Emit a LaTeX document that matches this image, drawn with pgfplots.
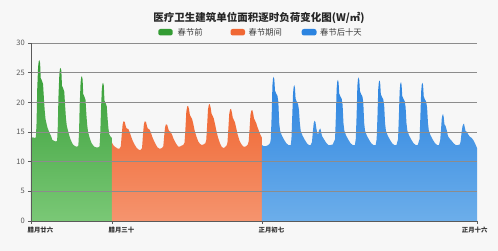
\documentclass[border=0pt]{standalone}
\usepackage{pgfplots}
\pgfplotsset{compat=1.18}
\usepackage{fontspec}
\setmainfont{Noto Sans CJK SC}
\definecolor{bg}{RGB}{247,247,247}
\definecolor{gtop}{RGB}{52,156,52}
\definecolor{gbot}{RGB}{122,200,118}
\definecolor{otop}{RGB}{240,104,52}
\definecolor{obot}{RGB}{245,148,110}
\definecolor{btop}{RGB}{44,132,224}
\definecolor{bbot}{RGB}{108,174,234}
\definecolor{gridc}{RGB}{140,140,140}
\definecolor{axc}{RGB}{90,90,90}
\begin{document}
\begin{tikzpicture}
\fill[bg] (0,0) rectangle (498pt,251pt);
\useasboundingbox (0,0) rectangle (498pt,251pt);
\begin{axis}[
  at={(31pt,30pt)}, anchor=south west,
  scale only axis, width=446pt, height=178pt,
  xmin=0, xmax=504, ymin=0, ymax=30,
  axis on top,
  axis x line*=bottom, axis y line*=left,
  axis line style={draw=axc, line width=0.7pt},
  ytick={0,5,...,30},
  ymajorgrids,
  grid style={draw=gridc, line width=0.6pt},
  tick align=outside,
  major tick length=3pt,
  tick style={draw=axc, line width=0.6pt},
  xtick={0,91.5,261,504},
  xticklabels={腊月廿六,腊月三十,正月初七,\hspace*{-11.8pt}正月十六},
  xticklabel style={anchor=north west, inner sep=0pt, xshift=-3.5pt, yshift=-3pt,
    font=\fontsize{6.4}{7}\selectfont\bfseries, text=black!80},
  yticklabel style={inner sep=1pt, xshift=-2pt, font=\fontsize{7.5}{8}\selectfont, text=black!65},
  /pgf/number format/assume math mode=true,
]
% 春节前
\addplot[draw=none, top color=gtop, bottom color=gbot] coordinates {
(0,14.0)(2,14.1)(4,14.0)(5.5,14.1)(6.3,16.6)(7,22.1)(8,25.9)(8.7,26.9)(9.5,27.1)(10.3,26.6)(11,24.1)(12.5,23.6)(13.6,23.1)(14.7,20.4)(15.5,18.6)(16.5,17.1)(18.5,15.8)(20.5,15.0)(23,14.2)
(24,13.7)(26,13.5)(28,13.4)(29.5,13.5)(30.3,16.0)(31,20.8)(32,24.6)(32.7,25.6)(33.5,25.8)(34.3,25.3)(35,22.8)(36.5,22.3)(37.6,21.8)(38.7,19.1)(39.5,17.3)(40.5,16.0)(42.5,14.8)(44.5,13.8)(47,13.0)
(48,12.8)(50,12.6)(52,12.5)(53.5,12.7)(54.3,15.0)(55,19.4)(56,23.2)(56.7,24.2)(57.5,24.4)(58.3,23.9)(59,21.4)(60.5,20.9)(61.6,20.4)(62.7,17.7)(63.5,16.2)(64.5,15.0)(66.5,13.9)(68.5,13.1)(71,12.6)
(72,12.5)(74,12.4)(76,12.4)(77.5,12.6)(78.3,14.8)(79,18.3)(80,22.1)(80.7,23.1)(81.5,23.3)(82.3,22.8)(83,20.3)(84.5,19.8)(85.6,19.3)(86.7,17.0)(87.5,15.6)(88.5,14.6)(90,14.2)(91.5,14.0)
} \closedcycle;
% 春节期间
\addplot[draw=none, top color=otop, bottom color=obot] coordinates {
(91.5,13.2)(93,12.8)(95,12.5)
(96,12.4)(98,12.2)(100,12.2)(101.5,12.6)(102.5,14.5)(103.5,16.2)(104.5,16.8)(106,16.7)(107,16.0)(108,15.6)(110,15.5)(111.5,15.0)(113,14.3)(115,13.5)(117,12.9)(119,12.4)(121,12.1)
(122,12.0)(124,12.0)(125.5,12.3)(126.5,14.5)(127.5,16.2)(128.5,16.8)(130,16.7)(131,16.0)(132,15.6)(134,15.4)(135.5,14.9)(137,14.2)(139,13.5)(141,12.9)(143,12.4)(145,12.2)
(146,12.2)(148,12.3)(149.5,12.6)(150.5,14.3)(151.5,15.8)(152.5,16.3)(154,16.2)(155,15.6)(156,15.2)(158,15.0)(159.5,14.5)(161,13.9)(163,13.3)(165,12.8)(167,12.5)(169,12.6)
(170,12.7)(172,12.8)(173.5,13.2)(174.5,15.5)(175.5,18.4)(176.5,19.3)(177.5,19.4)(178.5,18.9)(179.5,17.9)(180.5,17.6)(182,17.2)(183.5,16.3)(185,15.2)(187,14.2)(189,13.4)(191,13.0)(193,12.8)
(195,12.9)(197,13.1)(198,13.6)(199,16.0)(200,18.8)(201,19.6)(202,19.7)(203,19.1)(204,18.1)(205,17.8)(206.5,17.3)(208,16.3)(209.5,15.2)(211.5,14.0)(213.5,13.1)(215.5,12.5)(217.5,12.3)
(219,12.4)(221,12.7)(222,13.2)(223,15.5)(224,18.0)(225,18.8)(226,18.9)(227,18.3)(228,17.4)(229,17.1)(230.5,16.6)(232,15.6)(233.5,14.6)(235.5,13.6)(237.5,13.0)(239.5,12.6)(241.5,12.5)
(243,12.6)(245,12.9)(246,13.4)(247,15.5)(248,17.9)(249,18.6)(250,18.7)(251,18.2)(252,17.3)(253,17.0)(254.5,16.5)(256,15.8)(257.5,15.2)(259,14.6)(261,14.0)
} \closedcycle;
% 春节后十天
\addplot[draw=none, top color=btop, bottom color=bbot] coordinates {
(261,12.8)(263,12.6)(265,12.6)(267,12.7)(269,12.9)(270.3,13.2)
(271,13.8)(272,18.0)(272.8,22.8)(273.5,24.0)(274.3,24.3)(275,23.8)(275.7,22.0)(277,21.5)(278.5,21.1)(279.5,20.1)(280.5,16.5)(281.5,15.2)(283.5,14.4)(286,13.7)(288.5,13.1)(291,12.8)(293.5,12.8)
(294.3,13.8)(295.3,18.0)(296.1,21.4)(296.8,22.6)(297.6,22.9)(298.3,22.4)(299,20.6)(300.3,20.1)(301.8,19.7)(302.8,18.7)(303.8,16.5)(304.8,15.2)(306.8,14.4)(309.3,13.7)(311.8,13.1)(314,12.8)(316,12.8)
(317.5,13.3)(318.5,15.0)(319.5,16.5)(320.5,16.9)(321.5,16.6)(322.5,15.6)(323.5,14.8)(324.5,14.6)(325.5,15.3)(327,15.6)(328,14.9)(329,14.3)(331,13.8)(333.5,13.2)(336,12.8)(338.5,12.8)(341,12.9)
(343.6,13.8)(344.6,18.0)(345.4,22.3)(346.1,23.5)(346.9,23.8)(347.6,23.3)(348.3,21.5)(349.6,21.0)(351.1,20.6)(352.1,19.6)(353.1,16.5)(354.1,15.2)(356.1,14.4)(358.6,13.7)(361.1,13.1)(363.6,12.8)(366,12.8)
(367,13.8)(368,18.0)(368.8,22.7)(369.5,23.9)(370.3,24.2)(371,23.7)(371.7,21.9)(373,21.4)(374.5,21.0)(375.5,20.0)(376.5,16.5)(377.5,15.2)(379.5,14.4)(382,13.7)(384.5,13.1)(387,12.8)(389.5,12.8)
(390.6,13.8)(391.6,18.0)(392.4,22.2)(393.1,23.4)(393.9,23.7)(394.6,23.2)(395.3,21.4)(396.6,20.9)(398.1,20.5)(399.1,19.5)(400.1,16.5)(401.1,15.2)(403.1,14.4)(405.6,13.7)(408.1,13.1)(410.6,12.8)(413,12.8)
(414.8,13.8)(415.8,18.0)(416.6,21.9)(417.3,23.1)(418.1,23.4)(418.8,22.9)(419.5,21.1)(420.8,20.6)(422.3,20.2)(423.3,19.2)(424.3,16.5)(425.3,15.2)(427.3,14.4)(429.8,13.7)(432.3,13.1)(434.8,12.8)(437,12.8)
(439.1,13.8)(440.1,18.0)(440.9,21.8)(441.6,23.0)(442.4,23.3)(443.1,22.8)(443.8,21.0)(445.1,20.5)(446.6,20.1)(447.6,19.1)(448.6,16.5)(449.6,15.2)(451.6,14.4)(454.1,13.7)(456.6,13.1)(459,12.8)(461,12.8)
(462.4,13.6)(463.4,15.5)(464.2,17.3)(465,17.9)(465.7,18.0)(466.4,17.5)(467.2,16.3)(468.5,16.0)(470,15.2)(471.2,14.3)(473,13.9)(475.4,13.5)(477.5,13.1)(480,12.8)(482.5,12.8)(484.5,12.9)
(485.5,13.4)(486.5,14.8)(487.5,15.9)(488.5,16.3)(489.3,16.4)(490,15.9)(491,15.2)(492.5,15.0)(494,14.6)(496,14.2)(498,14.0)(500,13.6)(502,13.0)(504,12.3)
} \closedcycle;
\end{axis}
% title
\node[font=\fontsize{10.5}{12}\selectfont\bfseries, text=black!85] at (259pt,233.5pt) {医疗卫生建筑单位面积逐时负荷变化图(W/㎡)};
% legend
\fill[gtop, rounded corners=2.2pt] (158.3pt,215.5pt) rectangle (172.7pt,222pt);
\node[anchor=west, inner sep=0pt, font=\fontsize{8.3}{10}\selectfont, text=black!75] at (177.5pt,218.7pt) {春节前};
\fill[otop, rounded corners=2.2pt] (230.5pt,215.5pt) rectangle (245pt,222pt);
\node[anchor=west, inner sep=0pt, font=\fontsize{8.3}{10}\selectfont, text=black!75] at (248.5pt,218.7pt) {春节期间};
\fill[btop, rounded corners=2.2pt] (301.7pt,215.5pt) rectangle (316.5pt,222pt);
\node[anchor=west, inner sep=0pt, font=\fontsize{8.3}{10}\selectfont, text=black!75] at (320pt,218.7pt) {春节后十天};
\end{tikzpicture}
\end{document}
